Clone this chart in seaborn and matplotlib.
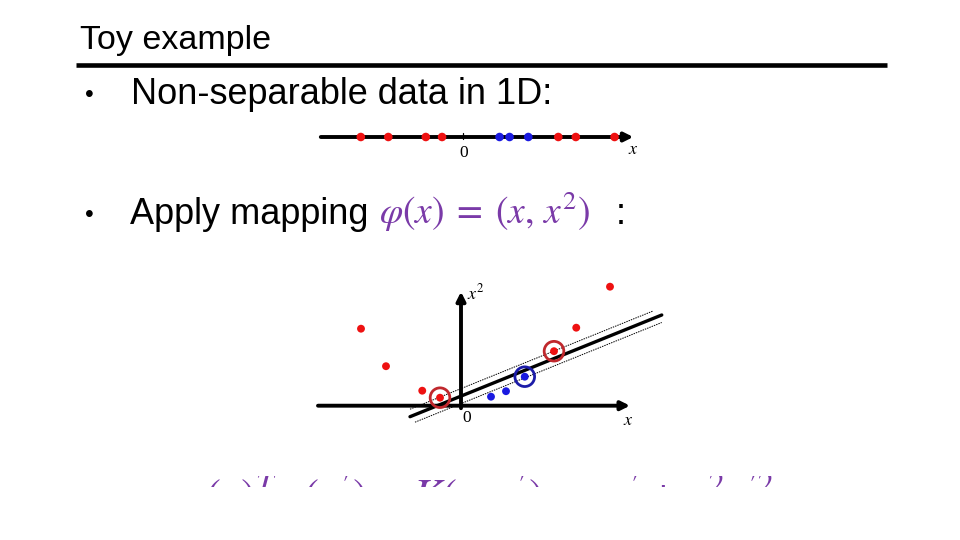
import numpy as np
import pandas as pd
import matplotlib.pyplot as plt
import seaborn as sns
from matplotlib.lines import Line2D

# 1D data: positions on the x axis and class of each point
line_x = [-4.1, -3.0, -1.5, -0.85, 1.45, 1.85, 2.6, 3.8, 4.5, 6.05]
point_cls = ['neg', 'neg', 'neg', 'neg', 'pos', 'pos', 'pos', 'neg', 'neg', 'neg']

# mapped data phi(x) = (x, x^2), heights
map_x = [-4.0, -3.0, -1.55, -0.84, 1.2, 1.8, 2.55, 3.72, 4.61, 5.96]
map_x2 = [15.4, 7.9, 3.0, 1.6, 1.8, 2.9, 5.8, 10.9, 15.6, 23.8]
is_support = [False, False, False, True, False, False, True, True, False, False]

# separating line x2 = w*x + b and half margin
sep_w, sep_b = 2.02, 1.92
half_margin = 1.5

title = 'Toy example'
bullet1 = 'Non-separable data in 1D:'
bullet2 = 'Apply mapping '
mapping_tex = r'$\varphi(x)\;=\;(x,\,x^2)$'
kernel_tex = r"$\varphi(x)^T\varphi(x^{\prime}) = K(x,x^{\prime}) = xx^{\prime}+x^2x^{\prime 2}$"

dot_colors = {'neg': '#ee1111', 'pos': '#1a1ae0'}
ring_colors = {'neg': '#c0282d', 'pos': '#1c1ca8'}
purple = '#7a3aa8'

sns.set_style('white')
plt.rcParams['font.family'] = ['Liberation Sans', 'DejaVu Sans']
plt.rcParams['mathtext.fontset'] = 'stix'
plt.rcParams['text.color'] = 'black'

W, H = 960, 540
fig = plt.figure(figsize=(9.6, 5.4), dpi=100)


def fx(px):
    return px / W


def fy(py):
    return 1 - py / H


def px_axes(x0, y0, x1, y1):
    ax = fig.add_axes([fx(x0), fy(y1), (x1 - x0) / W, (y1 - y0) / H])
    ax.set_axis_off()
    return ax


# slide title and rule
fig.text(fx(80), fy(49.5), title, fontsize=24.5, va='baseline', ha='left')
fig.add_artist(Line2D([fx(76), fx(887)], [fy(65.5), fy(65.5)], color='black',
                      lw=3.3, transform=fig.transFigure, solid_capstyle='butt'))

# bullets
for by in [94.7, 214.7]:
    fig.text(fx(89), fy(by), '\u2022', fontsize=18, ha='center', va='center')
fig.text(fx(131), fy(104), bullet1, fontsize=26, va='baseline', ha='left')
fig.text(fx(130), fy(224), bullet2, fontsize=26, va='baseline', ha='left')
fig.text(fx(379), fy(224), mapping_tex, fontsize=27, color=purple,
         va='baseline', ha='left')
fig.text(fx(616), fy(224), ':', fontsize=26, va='baseline', ha='left')

# ---- 1D line ----
df1 = pd.DataFrame({'x': line_x, 'y': [0.0] * len(line_x), 'cls': point_cls})
ax1 = px_axes(300, 117, 660, 157)
ax1.set_xlim(-6.532, 7.868)
ax1.set_ylim(-1, 1)
ax1.annotate('', xy=(6.8, 0), xytext=(-5.7, 0),
             arrowprops=dict(arrowstyle='-|>', lw=2.8, color='black',
                             mutation_scale=13, shrinkA=0, shrinkB=0))
ax1.plot([0, 0], [-0.12, 0.22], color='black', lw=0.9)
sns.scatterplot(data=df1, x='x', y='y', hue='cls', palette=dot_colors, s=38,
                edgecolor='none', legend=False, ax=ax1, zorder=3)
ax1.set_axis_off()
ax1.text(0, -0.8, '0', family='Liberation Serif', fontsize=12.5,
         ha='center', va='center')
ax1.text(6.8, -0.6, '$x$', fontsize=13, ha='center', va='center')

# ---- mapped 2D plot ----
df2 = pd.DataFrame({'x': map_x, 'x2': map_x2, 'cls': point_cls,
                    'sv': is_support})
ax2 = px_axes(300, 270, 680, 440)
ax2.set_xlim(-6.44, 8.76)
ax2.set_ylim(-6.86, 27.14)
arrow = dict(arrowstyle='-|>', lw=2.8, color='black', mutation_scale=13,
             shrinkA=0, shrinkB=0)
ax2.annotate('', xy=(6.76, 0), xytext=(-5.72, 0), arrowprops=arrow)
ax2.annotate('', xy=(0, 22.8), xytext=(0, -0.5), arrowprops=arrow)

xs = np.array([-2.04, 8.03])
ax2.plot(xs, sep_w * xs + sep_b, color='black', lw=2.4, zorder=2)
xu = np.array([-2.04, 7.69])
ax2.plot(xu, sep_w * xu + sep_b + half_margin, color='black', lw=0.7,
         ls=(0, (1.5, 1.0)), zorder=2)
xl = np.array([-1.84, 8.03])
ax2.plot(xl, sep_w * xl + sep_b - half_margin, color='black', lw=0.7,
         ls=(0, (1.5, 1.0)), zorder=2)

sns.scatterplot(data=df2, x='x', y='x2', hue='cls', palette=dot_colors, s=32,
                edgecolor='none', legend=False, ax=ax2, zorder=4)
sv = df2[df2['sv']]
for cls, grp in sv.groupby('cls'):
    ax2.scatter(grp['x'], grp['x2'], s=200, facecolors='none',
                edgecolors=ring_colors[cls], linewidths=2.0, zorder=5)
ax2.set_axis_off()
ax2.text(0.23, -2.5, '0', family='Liberation Serif', fontsize=12.5,
         ha='center', va='center')
ax2.text(6.68, -2.9, '$x$', fontsize=13, ha='center', va='center')
ax2.text(0.23, 22.5, '$x^2$', fontsize=13, ha='left', va='center')

# ---- kernel formula, cut off at the bottom like the slide ----
ax3 = px_axes(150, 476, 850, 487)
ax3.set_xlim(0, 1)
ax3.set_ylim(0, 1)
ax3.text(fx(177), fy(471), kernel_tex, transform=fig.transFigure,
         fontsize=32.5, color=purple, ha='left', va='top', clip_on=True)

fig.savefig('out.png', dpi=100)
